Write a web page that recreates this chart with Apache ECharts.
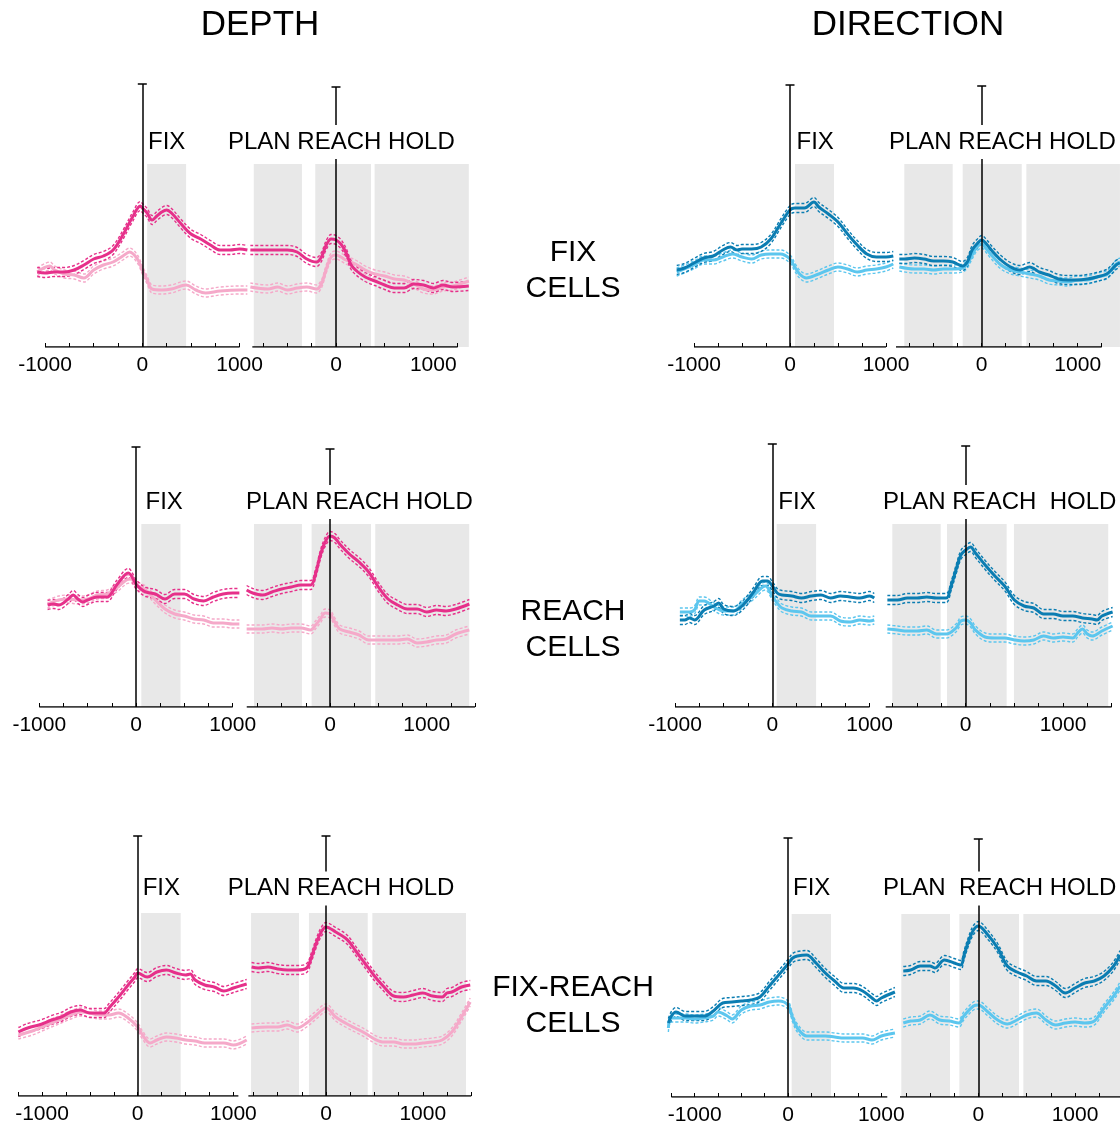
<!DOCTYPE html>
<html><head><meta charset="utf-8">
<script src="https://cdn.jsdelivr.net/npm/echarts@6/dist/echarts.min.js"></script>
<style>html,body{margin:0;padding:0;background:#fff}#c{width:1120px;height:1127px}</style>
</head><body><div id="c"></div>
<script>
// ---------------- DATA (time in ms, rate in arbitrary units) ----------------
// DEPTH column, FIX cells
const depthFix_fixAl_pref = [[-1080,7.5],[-1000,7.4],[-900,7.5],[-800,7.5],[-700,7.7],[-600,8.2],[-500,8.8],[-400,9.1],[-300,9.7],[-200,11.2],[-100,13.0],[-20,14.1],[0,13.9],[50,13.4],[100,12.7],[150,13.1],[200,13.5],[250,13.7],[300,13.4],[400,12.3],[500,11.3],[600,10.8],[700,10.2],[800,9.7],[900,9.7],[1000,9.8],[1080,9.7]];
const depthFix_fixAl_non = [[-1080,7.5],[-950,8.1],[-900,7.7],[-800,7.3],[-700,7.2],[-600,6.9],[-500,7.7],[-400,8.2],[-300,8.5],[-200,9.1],[-130,9.5],[-50,8.8],[0,7.7],[50,6.7],[100,5.8],[200,5.7],[300,5.8],[450,6.2],[550,5.7],[650,5.4],[800,5.6],[1000,5.7],[1080,5.7]];
const depthFix_reachAl_pref = [[-880,9.7],[-700,9.7],[-500,9.7],[-400,9.5],[-300,8.8],[-200,8.5],[-150,9.0],[-100,10.2],[-50,10.8],[0,10.7],[50,10.3],[100,9.5],[150,8.3],[200,7.7],[300,7.0],[400,6.6],[500,6.2],[600,5.9],[700,5.9],[800,6.3],[900,6.2],[1000,5.9],[1100,6.2],[1200,6.0],[1365,6.1]];
const depthFix_reachAl_non = [[-880,6.0],[-700,5.8],[-600,6.0],[-500,5.7],[-400,5.9],[-300,6.0],[-200,5.8],[-150,6.3],[-100,7.8],[-50,9.0],[0,9.2],[50,9.0],[100,8.7],[200,8.3],[300,7.7],[400,7.3],[500,7.1],[600,6.8],[700,6.7],[800,6.3],[900,5.8],[1000,5.7],[1100,6.0],[1200,6.1],[1365,6.6]];
// DIRECTION column, FIX cells
const dirFix_fixAl_pref = [[-1180,7.7],[-1100,7.9],[-1000,8.4],[-900,8.9],[-800,9.1],[-700,9.7],[-620,10.0],[-550,9.7],[-500,9.8],[-400,9.8],[-300,10.0],[-200,10.8],[-100,12.3],[0,13.7],[50,13.9],[150,13.9],[250,14.5],[300,14.0],[400,13.3],[500,12.5],[600,11.3],[700,10.2],[800,9.3],[900,9.0],[1000,9.0],[1076,9.1]];
const dirFix_fixAl_non = [[-1180,7.5],[-1000,8.2],[-900,8.7],[-800,8.7],[-700,9.0],[-600,9.3],[-500,9.0],[-400,8.8],[-300,9.2],[-200,9.3],[-100,9.3],[0,8.8],[50,8.0],[100,7.3],[170,6.9],[300,7.3],[400,7.7],[500,8.0],[600,7.8],[700,7.5],[800,7.7],[900,7.8],[1000,8.0],[1076,8.3]];
const dirFix_reachAl_pref = [[-858,8.8],[-800,8.8],[-700,8.9],[-600,8.8],[-500,8.6],[-400,8.6],[-300,8.5],[-200,8.1],[-150,8.5],[-100,9.7],[-50,10.3],[0,10.7],[50,10.3],[100,9.7],[200,8.7],[300,8.0],[400,7.7],[500,8.0],[550,7.8],[600,7.5],[700,7.2],[800,6.8],[900,6.7],[1000,6.7],[1100,6.8],[1200,7.0],[1300,7.3],[1350,7.7],[1400,8.2],[1440,8.4]];
const dirFix_reachAl_non = [[-858,8.0],[-700,7.8],[-600,7.8],[-500,7.7],[-400,7.8],[-300,7.8],[-200,7.9],[-150,8.3],[-100,9.2],[-50,10.0],[0,10.3],[50,9.8],[100,9.2],[200,8.2],[300,7.7],[400,7.5],[500,7.3],[600,7.1],[700,6.7],[800,6.6],[900,6.5],[1000,6.7],[1100,6.7],[1200,7.0],[1300,7.2],[1350,7.7],[1400,8.3],[1440,8.5]];
// DEPTH column, REACH cells
const depthReach_fixAl_pref = [[-914,10.2],[-850,10.3],[-800,10.2],[-700,10.8],[-650,11.2],[-600,10.8],[-550,10.5],[-500,10.7],[-400,11.0],[-300,11.0],[-200,12.2],[-80,13.4],[0,12.3],[50,11.8],[100,11.5],[200,11.3],[300,10.8],[400,11.3],[500,11.3],[600,10.8],[700,10.6],[800,11.0],[900,11.3],[1000,11.4],[1069,11.4]];
const depthReach_fixAl_non = [[-914,10.3],[-800,10.7],[-700,10.8],[-600,10.7],[-500,10.8],[-400,11.2],[-300,11.3],[-200,11.9],[-100,12.7],[-50,12.8],[0,12.2],[100,11.7],[200,10.7],[300,9.8],[400,9.3],[500,9.1],[600,8.8],[700,8.7],[800,8.4],[900,8.4],[1000,8.3],[1069,8.3]];
const depthReach_reachAl_pref = [[-862,11.7],[-800,11.4],[-700,11.2],[-600,11.5],[-500,11.8],[-400,12.0],[-300,12.2],[-200,12.2],[-150,13.3],[-100,15.2],[-50,16.5],[0,17.1],[50,16.9],[100,16.3],[200,15.3],[300,14.5],[400,13.5],[500,12.0],[600,10.8],[700,10.2],[800,9.8],[900,9.8],[1000,9.5],[1100,9.7],[1200,9.6],[1300,9.8],[1441,10.3]];
const depthReach_reachAl_non = [[-862,7.8],[-700,7.8],[-600,7.9],[-500,7.8],[-400,7.9],[-300,7.9],[-200,7.7],[-150,8.2],[-100,8.8],[-50,9.4],[0,9.3],[50,8.5],[100,7.8],[200,7.5],[300,7.2],[400,6.7],[500,6.7],[600,6.7],[700,6.7],[800,6.8],[900,6.4],[1000,6.5],[1100,6.7],[1200,6.8],[1300,7.3],[1441,7.7]];
// DIRECTION column, REACH cells
const dirReach_fixAl_pref = [[-950,8.7],[-900,8.7],[-850,8.9],[-800,8.7],[-700,9.7],[-600,10.1],[-550,10.4],[-500,9.8],[-400,9.6],[-300,10.2],[-200,11.4],[-100,12.6],[-50,12.6],[0,12.1],[50,11.4],[100,11.2],[200,11.1],[300,10.9],[400,11.1],[500,11.2],[600,10.9],[700,11.1],[800,11.0],[900,10.9],[1000,11.1],[1048,10.9]];
const dirReach_fixAl_non = [[-950,9.5],[-850,9.5],[-800,9.7],[-750,10.6],[-700,10.6],[-600,10.0],[-500,9.6],[-400,9.6],[-300,10.4],[-200,11.1],[-100,12.0],[-70,12.1],[0,11.1],[50,10.4],[100,9.9],[200,9.6],[300,9.5],[400,9.1],[500,9.1],[600,9.1],[700,8.6],[800,8.5],[900,8.7],[1000,8.6],[1048,8.7]];
const dirReach_reachAl_pref = [[-805,10.7],[-700,10.7],[-600,10.9],[-500,10.9],[-400,11.0],[-300,10.9],[-200,10.9],[-150,12.1],[-100,13.7],[-50,15.2],[0,15.7],[50,16.0],[100,15.4],[200,14.2],[300,13.1],[400,12.1],[500,10.7],[600,10.1],[700,9.9],[800,9.3],[900,9.3],[1000,9.1],[1100,9.1],[1200,8.9],[1300,8.8],[1350,8.7],[1400,9.1],[1510,9.5]];
const dirReach_reachAl_non = [[-805,7.8],[-700,7.7],[-600,7.6],[-500,7.6],[-400,7.7],[-300,7.3],[-200,7.3],[-100,7.9],[-50,8.6],[0,8.7],[50,8.4],[100,7.7],[200,7.0],[300,6.9],[400,6.9],[500,6.7],[600,6.6],[700,6.7],[800,7.1],[900,6.9],[1000,7.0],[1100,6.9],[1150,7.4],[1200,7.8],[1250,7.3],[1300,7.1],[1400,7.6],[1510,8.1]];
// DEPTH column, FIX-REACH cells
const depthFR_fixAl_pref = [[-1247,6.4],[-1150,6.8],[-1000,7.2],[-900,7.6],[-800,7.9],[-700,8.4],[-600,8.6],[-500,8.3],[-400,8.3],[-350,8.3],[-300,8.8],[-200,9.9],[-100,11.1],[-30,11.9],[0,12.3],[100,11.9],[200,12.4],[300,12.6],[400,12.3],[500,12.1],[550,12.2],[600,11.6],[700,11.1],[800,10.9],[900,10.5],[1000,10.8],[1139,11.2]];
const depthFR_fixAl_non = [[-1247,6.1],[-1100,6.5],[-1000,6.9],[-900,7.3],[-800,7.7],[-700,8.1],[-600,8.4],[-500,8.3],[-400,8.1],[-300,8.1],[-200,8.3],[-100,7.8],[0,6.9],[50,6.1],[130,5.3],[200,5.6],[300,5.9],[400,5.8],[500,5.6],[600,5.5],[700,5.3],[800,5.3],[900,5.3],[1000,5.1],[1139,5.6]];
const depthFR_reachAl_pref = [[-769,12.9],[-700,12.8],[-600,12.9],[-500,12.7],[-400,12.6],[-300,12.6],[-200,12.8],[-150,13.9],[-100,15.3],[-50,16.4],[0,16.9],[100,16.4],[200,15.8],[250,15.3],[300,14.6],[400,13.3],[500,12.0],[600,10.9],[700,10.0],[800,9.9],[900,10.1],[1000,10.3],[1100,10.0],[1200,9.9],[1250,10.3],[1300,10.4],[1400,10.9],[1490,11.1]];
const depthFR_reachAl_non = [[-769,6.8],[-600,6.9],[-500,6.9],[-400,7.1],[-300,6.8],[-200,7.3],[-100,8.1],[0,8.8],[100,7.9],[200,7.3],[300,6.8],[400,6.3],[500,5.7],[600,5.4],[700,5.4],[800,5.2],[900,5.2],[1000,5.3],[1100,5.4],[1200,5.6],[1300,6.4],[1400,7.9],[1490,9.4]];
// DIRECTION column, FIX-REACH cells
const dirFR_fixAl_pref = [[-1282,7.4],[-1250,8.1],[-1200,8.5],[-1100,8.1],[-1000,8.1],[-900,8.1],[-800,8.6],[-700,9.4],[-600,9.5],[-500,9.6],[-400,9.7],[-300,10.0],[-200,11.1],[-100,12.2],[0,13.3],[50,13.9],[100,14.1],[200,14.2],[300,13.4],[400,12.4],[500,11.6],[600,10.9],[700,10.9],[800,10.6],[900,9.9],[950,9.6],[1000,9.9],[1146,10.5]];
const dirFR_fixAl_non = [[-1282,6.9],[-1250,7.9],[-1100,7.9],[-1000,7.8],[-900,7.9],[-800,8.1],[-750,8.5],[-650,8.1],[-600,7.8],[-500,8.7],[-400,9.1],[-300,9.2],[-200,9.5],[-100,9.6],[0,9.2],[50,7.9],[100,6.9],[200,6.1],[300,6.1],[400,6.1],[500,6.0],[600,5.9],[700,5.9],[800,5.9],[900,5.7],[1000,6.1],[1146,6.4]];
const dirFR_reachAl_pref = [[-776,12.6],[-700,12.7],[-600,13.1],[-500,13.1],[-450,12.9],[-350,13.7],[-250,13.4],[-180,13.2],[-150,14.1],[-100,15.6],[-50,16.7],[0,17.1],[100,16.2],[200,14.9],[300,13.1],[400,12.5],[500,12.1],[600,11.6],[700,11.6],[800,11.1],[900,10.4],[1000,10.9],[1100,11.4],[1200,11.6],[1300,12.1],[1400,13.1],[1466,14.2]];
const dirFR_reachAl_non = [[-776,7.4],[-700,7.6],[-600,7.7],[-500,8.2],[-400,7.7],[-300,7.6],[-200,7.4],[-150,8.1],[-50,9.1],[0,9.2],[100,8.5],[200,7.7],[300,7.3],[400,7.7],[500,8.2],[600,8.4],[700,7.7],[800,7.2],[900,7.4],[1000,7.5],[1100,7.4],[1200,7.6],[1300,8.9],[1400,10.1],[1466,11.1]];

// Standard-error half widths (dashed bounds)
const SE_PREF = 0.45;
const SE_NON = 0.4;

// Epochs (ms) : FIX epoch for fixation-aligned, PLAN/REACH/HOLD for reach-aligned
const epochFix_depthFix = [[50,450]];
const epochReach_depthFix = [[-845,-350],[-213,360],[397,1365]];
const epochFix_dirFix = [[52,458]];
const epochReach_dirFix = [[-806,-302],[-198,417],[465,1440]];
const epochFix_depthReach = [[55,460]];
const epochReach_depthReach = [[-786,-290],[-190,424],[468,1440]];
const epochFix_dirReach = [[45,450]];
const epochReach_dirReach = [[-754,-257],[-192,421],[496,1465]];
const epochFix_depthFR = [[35,449]];
const epochReach_depthFR = [[-774,-279],[-176,431],[479,1446]];
const epochFix_dirFR = [[39,461]];
const epochReach_dirFR = [[-796,-293],[-196,421],[466,1470]];
const EPOCH_TOP = 18.3;

// Tick labels
const fixAlignedTickLabels = [-1000, 0, 1000];
const reachAlignedTickLabels = [0, 1000];

// Text
const columnTitles = ['DEPTH', 'DIRECTION'];
const rowTitles = ['FIX\nCELLS', 'REACH\nCELLS', 'FIX-REACH\nCELLS'];

// ---------------- STYLE / LAYOUT ----------------
const FONT = '"Liberation Sans", Arial, Helvetica, sans-serif';
const COL = {
  depth: {pref: '#e6308a', non: '#f5a9c9'},
  dir: {pref: '#0b7db2', non: '#5cc6ee'}
};
const PX_PER_UNIT = 10; // grid y: 0..30 -> 300px

const panels = [
  {col:'depth', axisY:347, fixAl:{zero:142.3, scale:0.0973, axis:[-1000,1000], bar:26.3, pref:depthFix_fixAl_pref, non:depthFix_fixAl_non, epochs:epochFix_depthFix},
   reachAl:{zero:336, scale:0.0973, axis:[-860,1250], bar:26.0, pref:depthFix_reachAl_pref, non:depthFix_reachAl_non, epochs:epochReach_depthFix},
   fixLbl:[148,142], prhLbl:[228,142], prhText:'PLAN REACH HOLD'},
  {col:'dir', axisY:347, fixAl:{zero:790, scale:0.096, axis:[-1000,1000], bar:26.2, pref:dirFix_fixAl_pref, non:dirFix_fixAl_non, epochs:epochFix_dirFix},
   reachAl:{zero:981.7, scale:0.096, axis:[-893,1250], bar:26.1, pref:dirFix_reachAl_pref, non:dirFix_reachAl_non, epochs:epochReach_dirFix},
   fixLbl:[796.5,142], prhLbl:[889,142], prhText:'PLAN REACH HOLD'},
  {col:'depth', axisY:707, fixAl:{zero:136, scale:0.0967, axis:[-1000,1000], bar:26.0, pref:depthReach_fixAl_pref, non:depthReach_fixAl_non, epochs:epochFix_depthReach},
   reachAl:{zero:330, scale:0.0967, axis:[-861,1500], bar:25.8, pref:depthReach_reachAl_pref, non:depthReach_reachAl_non, epochs:epochReach_depthReach},
   fixLbl:[145.5,502], prhLbl:[246,502], prhText:'PLAN REACH HOLD'},
  {col:'dir', axisY:707, fixAl:{zero:772.3, scale:0.0973, axis:[-1000,1000], bar:26.3, pref:dirReach_fixAl_pref, non:dirReach_fixAl_non, epochs:epochFix_dirReach},
   reachAl:{zero:965.7, scale:0.0973, axis:[-822,1500], bar:26.1, pref:dirReach_reachAl_pref, non:dirReach_reachAl_non, epochs:epochReach_dirReach},
   fixLbl:[778.3,502], prhLbl:[883,502], prhText:'PLAN REACH  HOLD'},
  {col:'depth', axisY:1096, fixAl:{zero:137.7, scale:0.0957, axis:[-1250,1052], bar:26.0, pref:depthFR_fixAl_pref, non:depthFR_fixAl_non, epochs:epochFix_depthFR},
   reachAl:{zero:326, scale:0.0968, axis:[-802,1500], bar:26.0, pref:depthFR_reachAl_pref, non:depthFR_reachAl_non, epochs:epochReach_depthFR},
   fixLbl:[142.7,888.5], prhLbl:[227.7,888.5], prhText:'PLAN REACH HOLD'},
  {col:'dir', axisY:1097, fixAl:{zero:788, scale:0.0933, axis:[-1250,1064], bar:25.9, pref:dirFR_fixAl_pref, non:dirFR_fixAl_non, epochs:epochFix_dirFR},
   reachAl:{zero:978.3, scale:0.0967, axis:[-810,1500], bar:25.8, pref:dirFR_reachAl_pref, non:dirFR_reachAl_non, epochs:epochReach_dirFR},
   fixLbl:[793,888.5], prhLbl:[883,888.5], prhText:'PLAN  REACH HOLD'}
];

const grids = [], xAxes = [], yAxes = [], series = [];

function ticksFor(axis) {
  const out = [];
  for (let v = Math.ceil(axis[0] / 250) * 250; v <= axis[1]; v += 250) out.push(v);
  return out;
}

function addSub(sub, axisY, colors, labels) {
  const idx = grids.length;
  const ts = [].concat(sub.pref.map(p => p[0]), sub.non.map(p => p[0]), sub.axis, ...sub.epochs);
  let xMin = Math.min(...ts), xMax = Math.max(...ts);
  xMin = Math.max(xMin, -sub.zero / sub.scale);
  xMax = Math.min(xMax, (1120 - sub.zero) / sub.scale);
  const left = sub.zero + xMin * sub.scale;
  const width = (xMax - xMin) * sub.scale;
  grids.push({left: left, top: axisY - 30 * PX_PER_UNIT, width: width, height: 30 * PX_PER_UNIT, containLabel: false});
  xAxes.push({
    type: 'value', gridIndex: idx, min: xMin, max: xMax, z: 6,
    axisLine: {show: false}, splitLine: {show: false},
    axisTick: {show: true, inside: true, length: 4, lineStyle: {color: '#000', width: 1}, customValues: ticksFor(sub.axis)},
    axisLabel: {show: true, customValues: labels, color: '#000', fontSize: 21, fontFamily: FONT, margin: 8, formatter: v => String(v)}
  });
  yAxes.push({type: 'value', gridIndex: idx, min: 0, max: 30, show: false});
  // epochs (gray)
  series.push({
    type: 'line', xAxisIndex: idx, yAxisIndex: idx, data: [], z: 1, silent: true,
    markArea: {silent: true, itemStyle: {color: '#e8e8e8'}, label: {show: false},
      data: sub.epochs.map(e => [{coord: [e[0], 0]}, {coord: [e[1], EPOCH_TOP]}])}
  });
  // rate traces
  const traces = [[sub.non, colors.non, SE_NON], [sub.pref, colors.pref, SE_PREF]];
  traces.forEach(([d, c, se]) => {
    [-1, 1].forEach(sgn => {
      series.push({type: 'line', xAxisIndex: idx, yAxisIndex: idx, z: 3, silent: true, symbol: 'none', smooth: 0.35,
        lineStyle: {color: c, width: 1.4, type: [3, 2]},
        data: d.map(p => [p[0], +(p[1] + sgn * se).toFixed(2)])});
    });
    series.push({type: 'line', xAxisIndex: idx, yAxisIndex: idx, z: 4, silent: true, symbol: 'none', smooth: 0.35,
      lineStyle: {color: c, width: 3}, data: d});
  });
  // axis line + alignment marker with scale bar cap
  const cap = 4.5 / sub.scale;
  series.push({
    type: 'line', xAxisIndex: idx, yAxisIndex: idx, z: 5, silent: true, symbol: 'none',
    lineStyle: {color: '#000', width: 1.3},
    data: [[sub.axis[0], 0], [sub.axis[1], 0]],
    markLine: {silent: true, symbol: 'none', label: {show: false}, animation: false,
      lineStyle: {color: '#000', width: 1.5, type: 'solid'},
      data: [[{coord: [0, 0]}, {coord: [0, sub.bar]}], [{coord: [-cap, sub.bar]}, {coord: [cap, sub.bar]}]]}
  });
}

panels.forEach(p => {
  const colors = COL[p.col];
  addSub(p.fixAl, p.axisY, colors, fixAlignedTickLabels);
  addSub(p.reachAl, p.axisY, colors, reachAlignedTickLabels);
});

const graphic = [];
function txt(text, x, y, size, align, extra) {
  graphic.push({type: 'text', x: x, y: y, z: 100, silent: true,
    style: Object.assign({text: text, fill: '#000', font: size + 'px ' + FONT,
      textAlign: align, align: align, textVerticalAlign: 'middle', verticalAlign: 'middle'}, extra || {})});
}
txt(columnTitles[0], 260, 25, 35, 'center');
txt(columnTitles[1], 908, 25, 35, 'center');
const rowY = [271, 630, 1006];
rowTitles.forEach((t, i) => txt(t, 573, rowY[i], 30, 'center', {lineHeight: 36}));
panels.forEach(p => {
  txt('FIX', p.fixLbl[0], p.fixLbl[1], 24, 'left');
  txt(p.prhText, p.prhLbl[0], p.prhLbl[1], 24, 'left', {backgroundColor: '#fff', padding: [5, 0, 5, 0]});
});

const chart = echarts.init(document.getElementById('c'), null, {renderer: 'canvas'});
chart.setOption({
  animation: false,
  backgroundColor: '#fff',
  grid: grids, xAxis: xAxes, yAxis: yAxes, series: series, graphic: graphic
});
</script>
</body></html>
